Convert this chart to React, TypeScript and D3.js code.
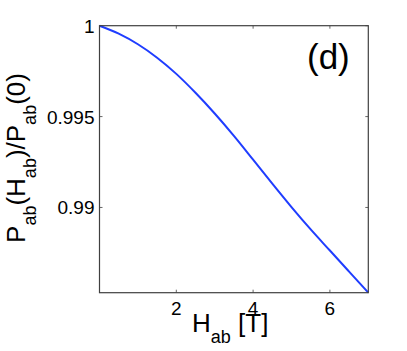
import React from "react";
import * as d3 from "d3";

const hValues = [0, 0.5, 1, 1.5, 2, 2.5, 3, 3.5, 4, 4.5, 5, 5.5, 6, 6.5, 7];
const pValues = [1.0, 0.99956, 0.99898, 0.99824, 0.99735, 0.99631, 0.99517, 0.99394, 0.99263, 0.99131, 0.99002, 0.98879, 0.98763, 0.98647, 0.98531];
const xTicks = [2, 4, 6];
const yTicks = [0.99, 0.995, 1];
const yTickLabels = ["0.99", "0.995", "1"];

const W = 407, H = 351;
const L = 99.5, R = 368.3, T = 25.7, B = 292.7;

export default function App() {
  const x = d3.scaleLinear().domain([0, 7]).range([L, R]);
  const y = d3.scaleLinear().domain([0.98531, 1]).range([B, T]);
  const data = hValues.map((h, i) => [h, pValues[i]] as [number, number]);
  const line = d3.line<[number, number]>().x(d => x(d[0])).y(d => y(d[1])).curve(d3.curveMonotoneX);
  const font = "'Liberation Sans', Arial, Helvetica, sans-serif";
  const axisColor = "#404040";
  const tl = 3;
  return (
    <svg width={W} height={H} style={{ position: "absolute", left: 0, top: 0, background: "#fff" }} fontFamily={font}>
      <rect x={0} y={0} width={W} height={H} fill="#fff" />
      {xTicks.map(t => (
        <g key={"xt" + t}>
          <line x1={x(t)} x2={x(t)} y1={B} y2={B - tl} stroke={axisColor} strokeWidth={0.8} />
          <line x1={x(t)} x2={x(t)} y1={T} y2={T + tl} stroke={axisColor} strokeWidth={0.8} />
          <text x={x(t)} y={314.5} fontSize={19} textAnchor="middle" fill="#000">{t}</text>
        </g>
      ))}
      {yTicks.map((t, i) => (
        <g key={"yt" + t}>
          <line x1={L} x2={L + tl} y1={y(t)} y2={y(t)} stroke={axisColor} strokeWidth={0.8} />
          <line x1={R} x2={R - tl} y1={y(t)} y2={y(t)} stroke={axisColor} strokeWidth={0.8} />
          <text x={94.5} y={y(t) + 7} fontSize={19} textAnchor="end" fill="#000">{yTickLabels[i]}</text>
        </g>
      ))}
      <path d={line(data) || ""} fill="none" stroke="#1f3dff" strokeWidth={2} />
      <rect x={L} y={T} width={R - L} height={B - T} fill="none" stroke={axisColor} strokeWidth={1.2} />
      <text x={307} y={68.5} fontSize={35} fill="#000">(d)</text>
      <text x={192} y={332} fontSize={26} fill="#000">
        H<tspan fontSize={18} dy={11}>ab</tspan><tspan dy={-11}> [T]</tspan>
      </text>
      <text transform="translate(25,158) rotate(-90)" fontSize={26} textAnchor="middle" fill="#000">
        P<tspan fontSize={18} dy={11}>ab</tspan><tspan dy={-11}>(H</tspan><tspan fontSize={18} dy={11}>ab</tspan><tspan dy={-11}>)/P</tspan><tspan fontSize={18} dy={11}>ab</tspan><tspan dy={-11}>(0)</tspan>
      </text>
    </svg>
  );
}
